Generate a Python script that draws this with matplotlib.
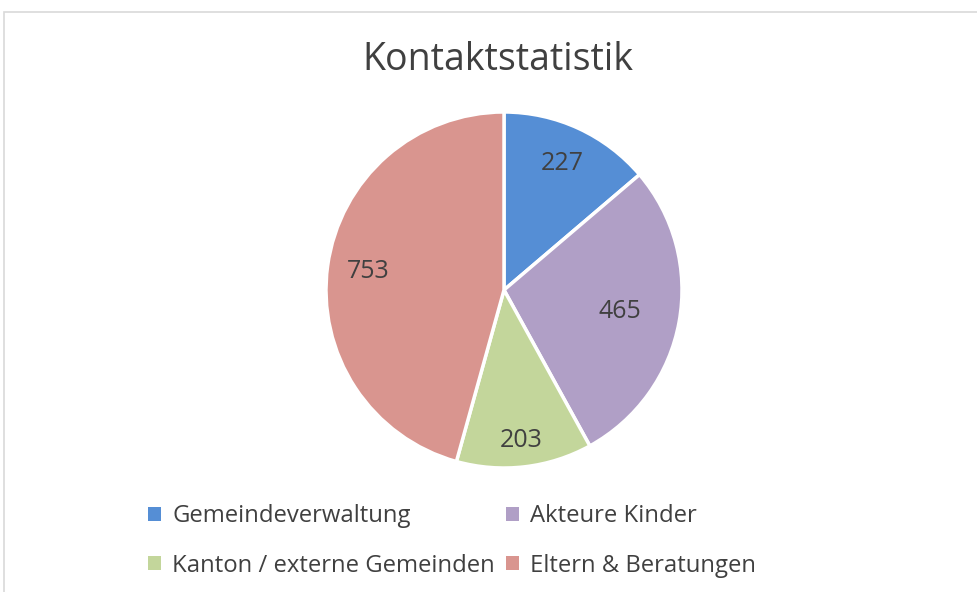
import matplotlib.pyplot as plt
import matplotlib.patches as mpatches
import numpy as np

categories = ["Gemeindeverwaltung", "Akteure Kinder", "Kanton / externe Gemeinden", "Eltern & Beratungen"]
values = [227, 465, 203, 753]
colors = ["#558ED5", "#B09FC6", "#C3D69B", "#D9958F"]
label_dist = [0.78, 0.66, 0.85, 0.77]

plt.rcParams['font.family'] = ['Open Sans', 'DejaVu Sans']
text_color = "#404040"

fig = plt.figure(figsize=(9.77, 5.92), dpi=100)

# chart frame (cropped on right and bottom)
frame = mpatches.Rectangle((4 / 977, -0.01), 1.0, 1 - 12 / 592 + 0.01, transform=fig.transFigure,
                           fill=False, edgecolor="#D9D9D9", linewidth=1.2)
fig.patches.append(frame)

fig.text(498 / 977, 1 - 60 / 592, "Kontaktstatistik", ha="center", va="center",
         fontsize=27, color=text_color)

# pie axes: center (504, 290), radius ~178 px
r = 178
ax = fig.add_axes([(504 - r) / 977, 1 - (290 + r) / 592, 2 * r / 977, 2 * r / 592])
wedges, _ = ax.pie(values, colors=colors, startangle=90, counterclock=False,
                   wedgeprops=dict(edgecolor="white", linewidth=2.5))
ax.set_xlim(-1, 1)
ax.set_ylim(-1, 1)
ax.set_aspect("equal")

for w, v, d in zip(wedges, values, label_dist):
    ang = np.deg2rad((w.theta1 + w.theta2) / 2)
    ax.text(d * np.cos(ang), d * np.sin(ang), str(v), ha="center", va="center",
            fontsize=18, color=text_color)

# legend filled row by row like the original
order = [0, 2, 1, 3]
handles = [mpatches.Patch(facecolor=colors[i], edgecolor="none") for i in order]
labels = [categories[i] for i in order]
leg = fig.legend(handles, labels, loc="center", bbox_to_anchor=(452 / 977, 1 - 541 / 592),
                 ncol=2, frameon=False, fontsize=17.2, labelcolor=text_color,
                 handlelength=0.55, handleheight=0.55, handletextpad=0.45,
                 columnspacing=0.45, labelspacing=1.05)

fig.savefig("out.png", dpi=100)
